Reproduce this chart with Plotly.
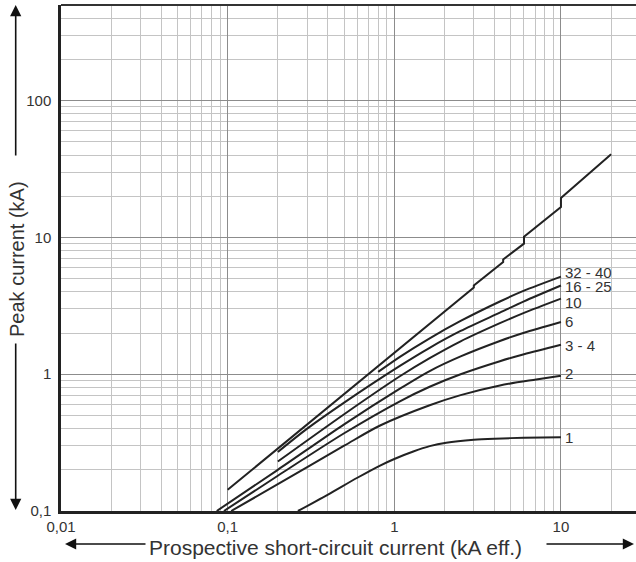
import numpy as np
import plotly.graph_objects as go

# unlimited (prospective) peak current, with the power-factor steps
x_peak = [0.1, 3, 3, 4.5, 4.5, 6, 6, 10, 10, 20]
y_peak = [0.143, 4.3, 4.45, 6.6, 6.9, 9.0, 10.1, 16.7, 19.4, 40.5]

# let-through peak current per rating (A)
labels = ["32 - 40", "16 - 25", "10", "6", "3 - 4", "2", "1"]
x_32_40 = [0.8, 1.08, 1.63, 2.5, 4.3, 6, 10]
y_32_40 = [1.04, 1.34, 1.83, 2.45, 3.4, 4.08, 5.17]
x_16_25 = [0.2, 0.3, 0.5, 1.08, 1.63, 2.5, 4.3, 6, 10]
y_16_25 = [0.27, 0.4, 0.62, 1.15, 1.56, 2.07, 2.82, 3.41, 4.45]
x_10 = [0.2, 0.5, 1.08, 1.63, 2.5, 4.3, 6, 10]
y_10 = [0.23, 0.51, 0.966, 1.31, 1.74, 2.36, 2.81, 3.57]
x_6 = [0.086, 0.2, 0.5, 1.08, 1.63, 2.5, 4.3, 6, 10]
y_6 = [0.1, 0.2, 0.43, 0.784, 1.055, 1.35, 1.75, 2.01, 2.41]
x_3_4 = [0.095, 0.2, 0.5, 1.08, 1.63, 2.5, 4.3, 6, 10]
y_3_4 = [0.1, 0.181, 0.37, 0.634, 0.81, 1.0, 1.245, 1.4, 1.643]
x_2 = [0.105, 0.2, 0.5, 0.816, 1.63, 2.5, 4.3, 7.1, 10]
y_2 = [0.1, 0.157, 0.3, 0.42, 0.593, 0.703, 0.828, 0.915, 0.975]
x_1 = [0.264, 0.4, 0.6, 0.816, 1.0, 1.3, 1.63, 2.05, 3, 4, 6, 10]
y_1 = [0.1, 0.132, 0.175, 0.214, 0.24, 0.272, 0.298, 0.316, 0.332, 0.338, 0.343, 0.346]

curves = [(x_32_40, y_32_40), (x_16_25, y_16_25), (x_10, y_10), (x_6, y_6),
          (x_3_4, y_3_4), (x_2, y_2), (x_1, y_1)]
label_shift = [4, -1, -4, 0, -1, 2, 0]

x_ticks = [0.01, 0.1, 1, 10]
x_ticktext = ["0,01", "0,1", "1", "10"]
y_ticks = [0.1, 1, 10, 100]
y_ticktext = ["0,1", "1", "10", "100"]

W, H = 636, 562
L, R, T, B = 61, 0, 5, 51
pw, ph = W - L - R, H - T - B


def px(x):
    return (x - L) / pw


def py(y):
    return (H - B - y) / ph


LINE = "#222222"
TXT = "#333333"
FONT = "Liberation Sans, Arial, sans-serif"

fig = go.Figure()
fig.add_trace(go.Scatter(x=x_peak, y=y_peak, mode="lines",
                         line=dict(color=LINE, width=2), hoverinfo="skip"))
for (xs, ys) in curves:
    fig.add_trace(go.Scatter(x=xs, y=ys, mode="lines",
                             line=dict(color=LINE, width=2, shape="spline", smoothing=0.8),
                             hoverinfo="skip"))

ann = []
for (xs, ys), lab, sh in zip(curves, labels, label_shift):
    ann.append(dict(x=np.log10(xs[-1]), y=np.log10(ys[-1]), xref="x", yref="y",
                    text=lab, showarrow=False, xanchor="left", yanchor="middle",
                    xshift=2, yshift=sh, font=dict(size=15, color=TXT, family=FONT)))

arrow = dict(xref="paper", yref="paper", axref="pixel", ayref="pixel", text="",
             showarrow=True, arrowhead=2, arrowsize=1.4, arrowwidth=1.6,
             arrowcolor="#111111")
ann.append(dict(arrow, x=px(15.7), y=py(5), ax=0, ay=152))
ann.append(dict(arrow, x=px(15.7), y=py(510), ax=0, ay=-168))
ann.append(dict(arrow, x=px(65), y=py(544), ax=82, ay=0))
ann.append(dict(arrow, x=px(634), y=py(544), ax=-89, ay=0))

ann.append(dict(xref="paper", yref="paper", x=px(17), y=py(259),
                text="Peak current (kA)", textangle=-90, showarrow=False,
                xanchor="center", yanchor="middle",
                font=dict(size=20, color=TXT, family=FONT)))
ann.append(dict(xref="paper", yref="paper", x=px(335), y=py(547),
                text="Prospective short-circuit current (kA eff.)", showarrow=False,
                xanchor="center", yanchor="middle",
                font=dict(size=21, color=TXT, family=FONT)))

grid_major = "#8c8c8c"
grid_minor = "#c4c4c4"

fig.update_layout(
    width=W, height=H,
    margin=dict(l=L, r=R, t=T, b=B),
    paper_bgcolor="white", plot_bgcolor="white",
    showlegend=False,
    annotations=ann,
    shapes=[dict(type="line", xref="paper", yref="paper", x0=0, x1=1, y0=1, y1=1,
                 line=dict(color="#333333", width=2))],
    xaxis=dict(type="log", range=[-2, np.log10(28.2)],
               tickvals=x_ticks, ticktext=x_ticktext,
               showgrid=True, gridcolor=grid_major, gridwidth=1.3,
               minor=dict(dtick="D1", showgrid=True, gridcolor=grid_minor, gridwidth=1),
               showline=True, linecolor="#222222", linewidth=3,
               ticks="", zeroline=False,
               tickfont=dict(size=15, color=TXT, family=FONT)),
    yaxis=dict(type="log", range=[-1, np.log10(500)],
               tickvals=y_ticks, ticktext=y_ticktext,
               showgrid=True, gridcolor=grid_major, gridwidth=1.3,
               minor=dict(dtick="D1", showgrid=True, gridcolor=grid_minor, gridwidth=1),
               showline=True, linecolor="#222222", linewidth=2.5,
               ticks="", zeroline=False, ticklabelstandoff=4,
               tickfont=dict(size=15, color=TXT, family=FONT)),
)

fig.write_html("out.html", config={"displayModeBar": False},
               post_script="document.body.style.margin='0';")
